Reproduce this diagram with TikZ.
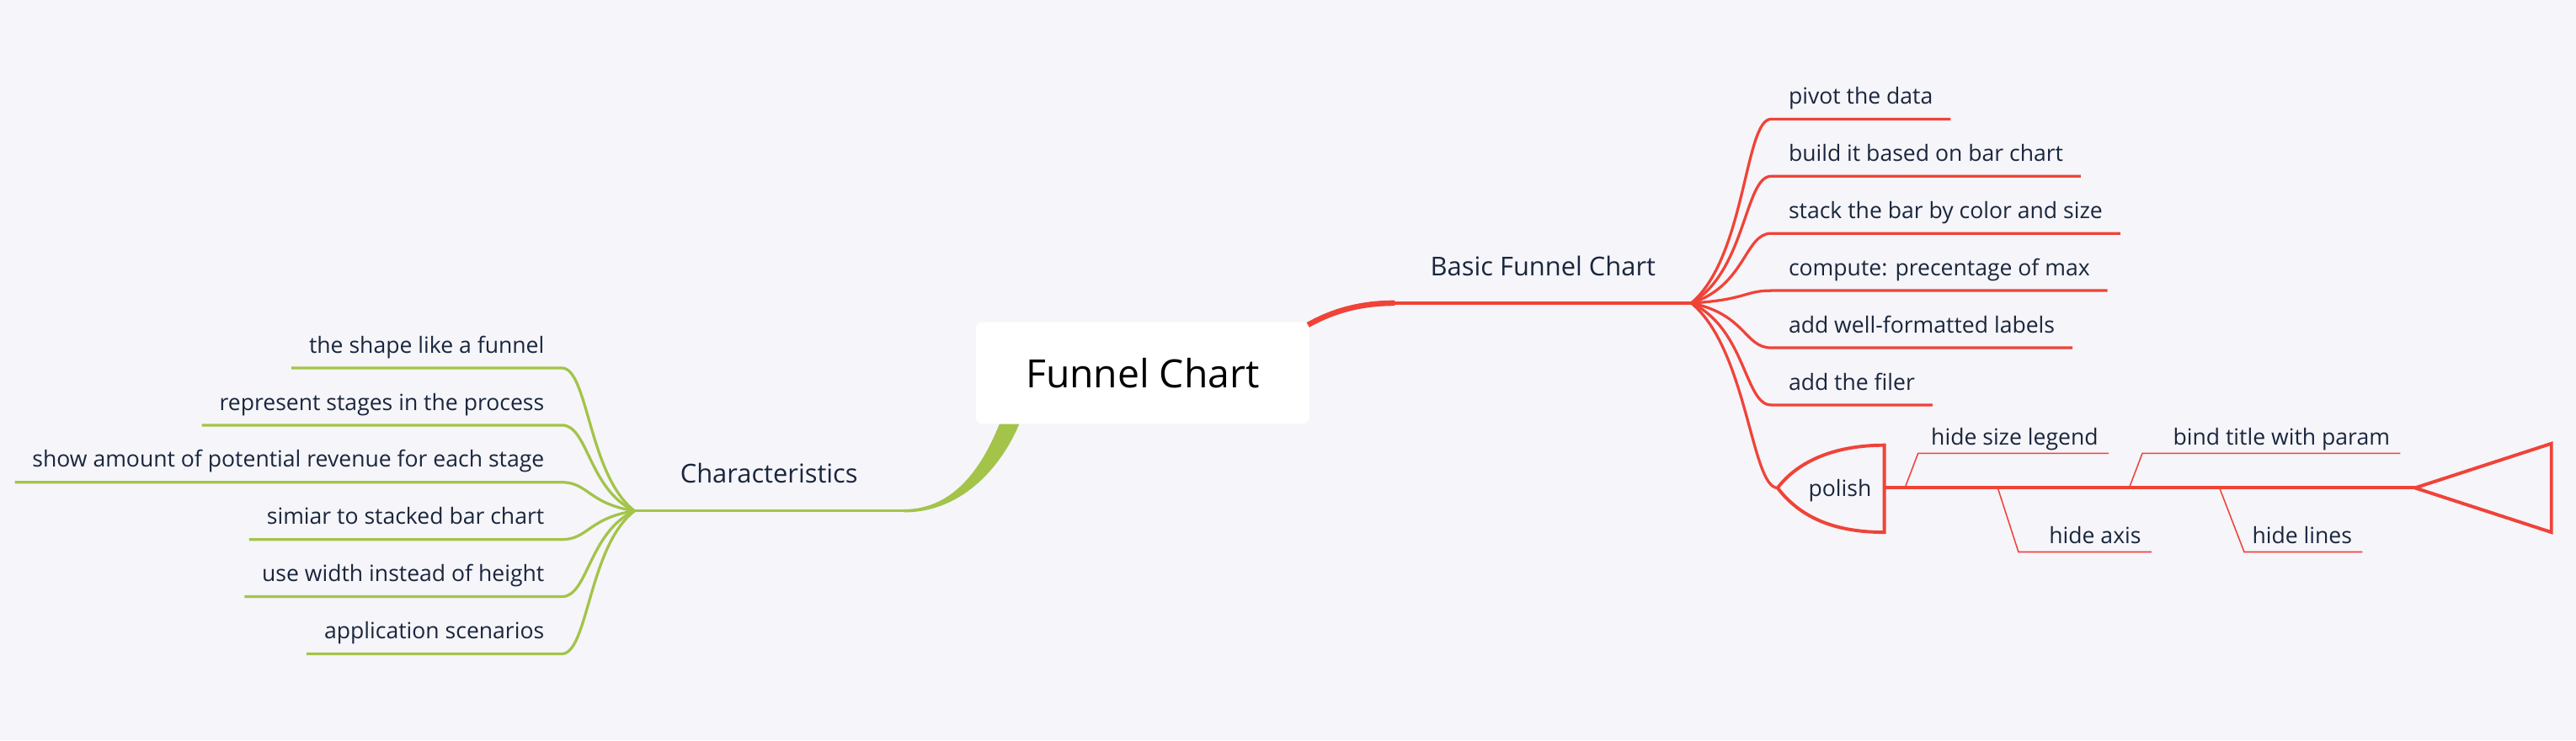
\documentclass[tikz,border=0pt]{standalone}
\usepackage{fontspec}
\setmainfont{Open Sans}
\usepackage{tikz}
\usetikzlibrary{calc,positioning}
\definecolor{mapbg}{RGB}{245,245,250}
\definecolor{mapred}{RGB}{240,67,56}
\definecolor{mapgreen}{RGB}{163,196,72}
\definecolor{mapink}{RGB}{26,38,60}

\begin{document}
\begin{tikzpicture}[
  x=0.4mm, y=-0.4mm,
  root/.style={rectangle, fill=white, rounded corners=4.5pt, minimum width=231pt, minimum height=70.6pt, font=\fontsize{27}{32}\selectfont, text=black},
  topic/.style={inner xsep=0pt, inner ysep=19pt, text depth=0pt, font=\fontsize{18}{22}\selectfont, text=mapink},
  leaf/.style={inner xsep=12pt, inner ysep=10.2pt, text depth=0pt, font=\fontsize{15.5}{18}\selectfont, text=mapink},
  boneleaf/.style={leaf, inner xsep=7pt, inner ysep=5.7pt},
  redlink/.style={draw=mapred, line width=1.9pt},
  greenlink/.style={draw=mapgreen, line width=1.9pt},
  bone/.style={draw=mapred, line width=0.9pt},
  fish/.style={draw=mapred, line width=2.3pt},
  fanright/.style={to path={.. controls ($(\tikztostart)!0.25!(\tikztotarget)+(21,0)$) and ($(\tikztotarget)+(-16,0)$) .. (\tikztotarget)}},
  fanleft/.style={to path={.. controls ($(\tikztostart)!0.25!(\tikztotarget)+(-17,0)$) and ($(\tikztotarget)+(16,0)$) .. (\tikztotarget)}}
]
\fill[mapbg] (0,0) rectangle (1568,450.6);
\useasboundingbox (0,0) rectangle (1568,450.6);

% central topic
\node[root] (root) at (695.5,227) {Funnel Chart};

% main topics
\node[topic, minimum width=205pt, anchor=south west] (basic) at (849,184.5) {Basic Funnel Chart};
\node[topic, minimum width=186pt, anchor=south east] (char) at (550,311) {Characteristics};

% right side
\node[leaf, anchor=south west] (pivot) at (1078,72.5) {pivot the data};
\node[leaf, anchor=south west] (build) at (1078,107.3) {build it based on bar chart};
\node[leaf, anchor=south west] (stack) at (1078,142.1) {stack the bar by color and size};
\node[leaf, anchor=south west] (compute) at (1078,176.9) {compute: precentage of max};
\node[leaf, anchor=south west] (labels) at (1078,211.7) {add well-formatted labels};
\node[leaf, anchor=south west] (filer) at (1078,246.5) {add the filer};
\node[leaf, inner xsep=0pt] (polish) at (1120,297) {polish};

% left side
\node[leaf, anchor=south east] (funnel) at (342,224) {the shape like a funnel};
\node[leaf, anchor=south east] (stages) at (342,258.8) {represent stages in the process};
\node[leaf, anchor=south east] (revenue) at (342,293.6) {show amount of potential revenue for each stage};
\node[leaf, anchor=south east] (stacked) at (342,328.4) {simiar to stacked bar chart};
\node[leaf, anchor=south east] (width) at (342,363.2) {use width instead of height};
\node[leaf, anchor=south east] (scenarios) at (342,398) {application scenarios};

% fishbone labels
\node[boneleaf, anchor=south east] (legend) at (1283.5,276) {hide size legend};
\node[boneleaf, anchor=south east] (bindtitle) at (1461,276) {bind title with param};
\node[boneleaf, anchor=south east] (hideaxis) at (1309.6,336) {hide axis};
\node[boneleaf, anchor=south east] (hidelines) at (1438,336) {hide lines};

% branches from the centre
\draw[redlink, line width=3.8pt] ($(root.north east)+(-1,2)$) .. controls +(16,-9) and +(-20,0) .. (basic.south west);
\draw[redlink] (basic.south west) -- (basic.south east);
\fill[mapgreen] ($(root.south west)+(14.5,0)$) .. controls +(-9,22) and +(33,0) .. ($(char.south east)+(0,-0.9)$) -- ($(char.south east)+(0,0.9)$) .. controls +(37,0) and +(-10,24) .. ($(root.south west)+(26.5,0)$) -- cycle;
\draw[greenlink] (char.south east) -- (char.south west);

% red fan
\draw[redlink, fanright] (basic.south east) to (pivot.south west) -- (pivot.south east);
\draw[redlink, fanright] (basic.south east) to (build.south west) -- (build.south east);
\draw[redlink, fanright] (basic.south east) to (stack.south west) -- (stack.south east);
\draw[redlink, fanright] (basic.south east) to (compute.south west) -- (compute.south east);
\draw[redlink, fanright] (basic.south east) to (labels.south west) -- (labels.south east);
\draw[redlink, fanright] (basic.south east) to (filer.south west) -- (filer.south east);

% polish fishbone
\draw[fish] ($(polish)+(27,-26)$) .. controls +(-29,0) and +(13,-17) .. ($(polish)+(-38,0)$) coordinate (polishtip) .. controls +(13,17) and +(-32,0) .. ($(polish)+(27,27)$) -- cycle;
\draw[redlink, fanright] (basic.south east) to (polishtip);
\coordinate (polishback) at ($(polish)+(27,0)$);
\coordinate (head) at (1470,297);
\draw[fish] (polishback) -- (head);
\draw[fish] (head) -- ++(83,-27) -- ++(0,54) -- cycle;
\coordinate (b1) at (1159.5,297);
\coordinate (b2) at (1296,297);
\coordinate (b3) at (1216,297);
\coordinate (b4) at (1351,297);
\draw[bone] (b1) -- ++(8,-21) -- (legend.south east);
\draw[bone] (b2) -- ++(8,-21) -- (bindtitle.south east);
\draw[bone] (b3) -- ++(12.6,39) -- (hideaxis.south east);
\draw[bone] (b4) -- ++(15,39) -- (hidelines.south east);

% green fan
\draw[greenlink, fanleft] (char.south west) to (funnel.south east) -- (funnel.south west);
\draw[greenlink, fanleft] (char.south west) to (stages.south east) -- (stages.south west);
\draw[greenlink, fanleft] (char.south west) to (revenue.south east) -- (revenue.south west);
\draw[greenlink, fanleft] (char.south west) to (stacked.south east) -- (stacked.south west);
\draw[greenlink, fanleft] (char.south west) to (width.south east) -- (width.south west);
\draw[greenlink, fanleft] (char.south west) to (scenarios.south east) -- (scenarios.south west);
\end{tikzpicture}
\end{document}
